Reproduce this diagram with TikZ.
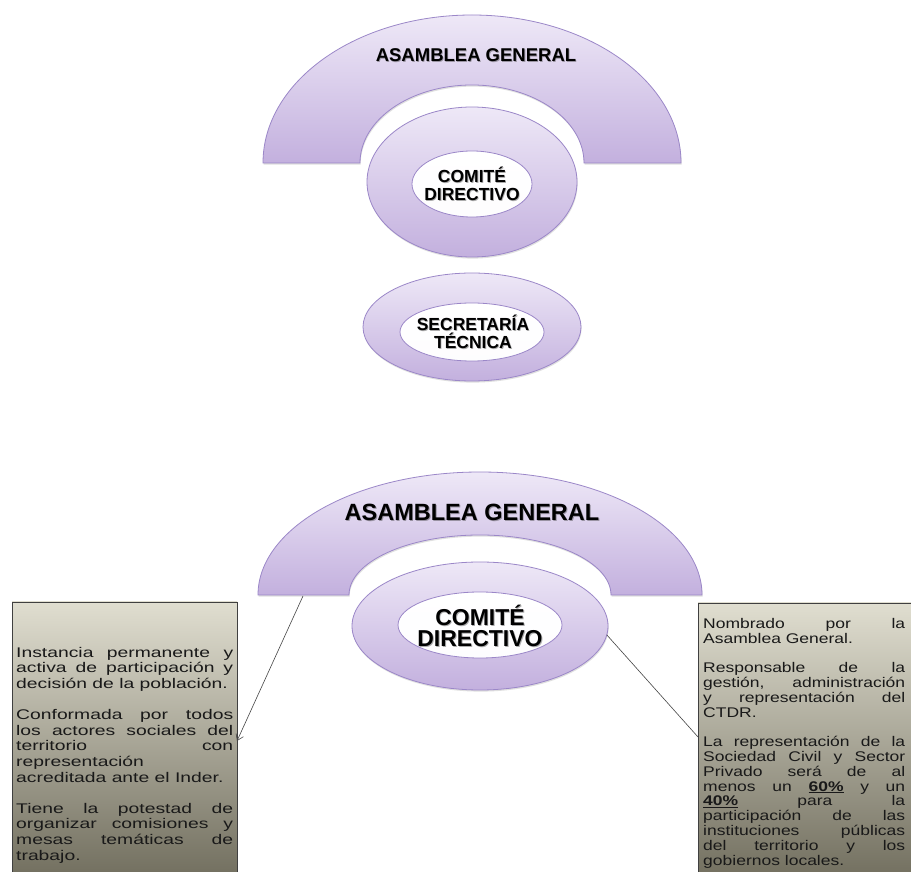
\documentclass[tikz,border=0pt]{standalone}
\usepackage{fontspec}
\setmainfont{Liberation Sans}
\newfontfamily\lboxfont[FakeStretch=1.38]{Liberation Sans}
\newfontfamily\rboxfont[FakeStretch=1.25]{Liberation Sans}
\usetikzlibrary{arrows.meta,shadows,shapes.geometric,calc}
\definecolor{pTop}{HTML}{EEE8F7}
\definecolor{pBot}{HTML}{C3B0DE}
\definecolor{pEdge}{HTML}{9B87C8}
\definecolor{bTop}{HTML}{E0DED0}
\definecolor{bBot}{HTML}{6C6959}
\definecolor{bEdge}{HTML}{404040}
\definecolor{lnk}{HTML}{454545}
\tikzset{
  purp/.style={draw=pEdge, line width=0.8pt, top color=pTop, bottom color=pBot,
    drop shadow={shadow xshift=0.6pt, shadow yshift=-1.6pt, opacity=0.25}},
  ringout/.style={purp, ellipse, inner sep=0pt, outer sep=0pt},
  hole/.style={ellipse, inner sep=0pt, outer sep=0pt, draw=pEdge, line width=0.8pt,
    top color=white, bottom color=white!90!pTop},
  lbl/.style={align=center, inner sep=0pt, text=black},
  lblsh/.style={lbl, text=black!80, opacity=0.4},
  infobox/.style={draw=bEdge, line width=0.8pt, top color=bTop, bottom color=bBot,
    inner sep=0pt, outer sep=0pt, anchor=north west,
    drop shadow={shadow xshift=1pt, shadow yshift=-1pt, opacity=0.3}},
  btext/.style={inner sep=0pt, align=justify, anchor=north west, text=black!90},
  link/.style={draw=lnk, line width=0.6pt},
}
\begin{document}
\begin{tikzpicture}[x=1pt,y=1pt]
\useasboundingbox (0,0) rectangle (911,871);
\clip (0,0) rectangle (911,871);
\fill[white] (0,0) rectangle (911,871);

% ---------- upper diagram ----------
\path[purp] (263,708) arc[start angle=180,end angle=0,x radius=209,y radius=148]
   -- (584,708) arc[start angle=0,end angle=180,x radius=112,y radius=78] -- cycle;
\node[lblsh, font=\bfseries\fontsize{18.5}{19}\selectfont] (agTs) at (476.8,815.1) {ASAMBLEA GENERAL};
\node[lbl, font=\bfseries\fontsize{18.5}{19}\selectfont] (agT) at (476,816) {ASAMBLEA GENERAL};

\node[ringout, minimum width=210pt, minimum height=150pt] (cdTo) at (472,689) {};
\node[hole, minimum width=120pt, minimum height=66pt] (cdTi) at (472,687) {};
\node[lblsh, font=\bfseries\fontsize{17.5}{18.5}\selectfont] (cdTs) at (472.8,686.1) {COMITÉ\\DIRECTIVO};
\node[lbl, font=\bfseries\fontsize{17.5}{18.5}\selectfont] (cdT) at (472,687) {COMITÉ\\DIRECTIVO};

\node[ringout, minimum width=218pt, minimum height=108pt] (stTo) at (472,544) {};
\node[hole, minimum width=144pt, minimum height=58pt] (stTi) at (472,539) {};
\node[lblsh, font=\bfseries\fontsize{17.5}{18}\selectfont] (stTs) at (473.8,538.1) {SECRETARÍA\\TÉCNICA};
\node[lbl, font=\bfseries\fontsize{17.5}{18}\selectfont] (stT) at (473,539) {SECRETARÍA\\TÉCNICA};

% ---------- lower diagram ----------
\path[purp] (258,276) arc[start angle=180,end angle=0,x radius=222,y radius=123]
   -- (611,276) arc[start angle=0,end angle=180,x radius=131,y radius=60] -- cycle;
\node[lblsh, font=\bfseries\fontsize{23.5}{24}\selectfont] (agBs) at (472.9,358) {ASAMBLEA GENERAL};
\node[lbl, font=\bfseries\fontsize{23.5}{24}\selectfont] (agB) at (472,359) {ASAMBLEA GENERAL};

\node[ringout, minimum width=256pt, minimum height=128pt] (cdBo) at (480,245) {};
\node[hole, minimum width=164pt, minimum height=66pt] (cdBi) at (480,246) {};
\node[lblsh, font=\bfseries\fontsize{23}{20.5}\selectfont] (cdBs) at (480.9,244) {COMITÉ\\DIRECTIVO};
\node[lbl, font=\bfseries\fontsize{23}{20.5}\selectfont] (cdB) at (480,245) {COMITÉ\\DIRECTIVO};

% ---------- info boxes ----------
\node[infobox, minimum width=225pt, minimum height=290pt] (lbox) at (12,269) {};
\node[infobox, minimum width=230pt, minimum height=290pt] (rbox) at (698,268) {};

\node[btext, text width=217pt,
  font=\lboxfont\fontsize{14}{15.6}\selectfont] (ltext) at (16,224)
{\setlength{\parskip}{15.6pt}\setlength{\parindent}{0pt}\hyphenpenalty=10000\tolerance=10000\hbadness=10000
Instancia permanente y\linebreak activa de participación y\linebreak decisión de la población.\par
Conformada por todos\linebreak los actores sociales del\linebreak territorio con\linebreak representación\linebreak acreditada ante el Inder.\par
Tiene la potestad de\linebreak organizar comisiones y\linebreak mesas temáticas de\linebreak trabajo.};

\node[btext, text width=202pt,
  font=\rboxfont\fontsize{14}{14.8}\selectfont] (rtext) at (703,253)
{\setlength{\parskip}{14.8pt}\setlength{\parindent}{0pt}\hyphenpenalty=10000\tolerance=10000\hbadness=10000
Nombrado por la\linebreak Asamblea General.\par
Responsable de la\linebreak gestión, administración\linebreak y representación del\linebreak CTDR.\par
La representación de la\linebreak Sociedad Civil y Sector\linebreak Privado será de al\linebreak menos un \underline{\textbf{60\%}} y un\linebreak \underline{\textbf{40\%}} para la\linebreak participación de las\linebreak instituciones públicas\linebreak del territorio y los\linebreak gobiernos locales.};

% ---------- connectors ----------
\coordinate (agFoot) at (303,275);
\draw[link, -{Straight Barb[length=6pt,width=8pt]}] (agFoot) -- ([yshift=-139pt]lbox.north east);
\draw[link] (cdBo.-4) -- ([yshift=-134pt]rbox.north west);
\end{tikzpicture}
\end{document}
